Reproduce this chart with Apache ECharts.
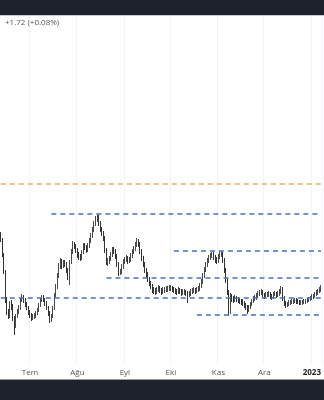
<!DOCTYPE html>
<html><head><meta charset="utf-8">
<script src="https://cdn.jsdelivr.net/npm/echarts@6/dist/echarts.min.js"></script>
<style>html,body{margin:0;padding:0;background:#fff}#c{width:324px;height:400px}</style>
</head><body><div id="c"></div>
<script>
// daily candles, first day and count
const startDate = '2022-06-12';
const opens = [166,160,145,128,100,88,84,97,94,82,74,84,88,92,100,103,100,96,92,88,85,82,83,84,87,90,95,100,103,100,97,92,87,80,84,92,105,113,124,134,138,134,137,136,130,124,138,148,156,154,150,145,143,142,148,154,153,150,154,159,164,170,176,181,183,177,171,167,162,150,138,138,141,145,150,149,144,136,127,128,133,138,140,142,139,140,144,148,151,155,159,156,149,142,136,130,126,121,117,114,110,109,108,110,112,110,108,110,110,111,111,112,112,111,110,109,108,110,109,107,108,108,107,105,106,108,109,110,109,110,111,114,118,124,130,135,139,142,144,145,143,140,139,143,146,146,140,130,120,108,100,104,101,100,102,101,100,99,98,97,95,93,90,93,96,99,101,102,104,106,107,108,105,104,105,105,106,104,103,106,106,105,106,108,111,102,97,95,96,97,98,98,99,100,99,98,97,97,98,98,99,100,101,102,103,104,106,107,109,110];
const closes = [160,145,128,100,88,84,97,94,82,74,84,88,92,100,103,100,96,92,88,85,82,83,84,87,90,95,100,103,100,97,92,87,80,84,92,105,113,124,134,138,134,137,136,130,124,138,148,156,154,150,145,143,142,148,154,153,150,154,159,164,170,176,181,183,177,171,167,162,150,138,138,141,145,150,149,144,136,127,128,133,138,140,142,139,140,144,148,151,155,159,156,149,142,136,130,126,121,117,114,110,109,108,110,112,110,108,110,110,111,111,112,112,111,110,109,108,110,109,107,108,108,107,105,106,108,109,110,109,110,111,114,118,124,130,135,139,142,144,145,143,140,139,143,146,146,140,130,120,108,100,104,101,100,102,101,100,99,98,97,95,93,90,93,96,99,101,102,104,106,107,108,105,104,105,105,106,104,103,106,106,105,106,108,111,102,97,95,96,97,98,98,99,100,99,98,97,97,98,98,99,100,101,102,103,104,106,107,109,110,112];
const highs = [168,162,147,130,103,91,99,100,96,84,86,91,95,102,106,105,102,98,94,90,87,86,87,89,92,97,102,105,105,102,99,94,89,86,94,107,116,127,137,142,141,140,140,138,132,140,151,159,158,156,152,148,146,150,157,157,155,157,162,167,173,179,184,186,185,179,173,169,164,152,142,144,148,153,153,151,146,138,131,136,141,143,145,144,143,147,151,154,158,162,161,158,151,144,138,132,128,123,119,116,113,112,113,115,114,112,113,113,114,114,115,115,114,113,112,111,113,112,111,111,111,110,109,109,111,112,113,112,113,114,117,121,127,133,138,142,145,147,148,148,145,143,146,149,149,148,142,132,122,110,107,106,104,105,104,103,102,101,101,99,97,95,95,98,101,104,105,107,109,110,111,110,107,108,108,109,108,106,108,109,108,109,111,114,113,104,99,98,100,100,101,101,102,102,101,100,100,100,101,101,102,103,104,106,106,108,110,111,113,115];
const lows = [158,143,126,97,85,81,82,90,79,65,72,82,86,90,98,97,93,90,85,82,79,80,81,82,85,88,93,98,98,94,90,84,77,78,82,90,103,111,122,131,131,132,133,127,120,115,136,146,151,147,142,140,139,140,146,150,147,148,152,157,162,168,174,178,174,168,164,159,147,135,134,136,139,143,146,141,133,124,125,126,131,136,138,136,137,138,142,146,149,153,153,146,139,133,127,123,118,114,111,107,106,105,106,108,107,105,106,107,108,108,109,109,108,107,106,105,106,106,104,105,105,104,97,103,104,106,107,106,107,108,109,112,116,122,128,133,137,140,142,140,137,136,137,141,143,137,127,117,105,84,86,98,97,98,98,97,96,95,94,92,90,86,88,91,94,97,99,100,102,104,105,103,101,102,103,103,101,100,101,104,102,103,104,106,99,94,92,93,94,95,96,96,97,96,96,95,95,95,96,96,97,98,99,100,101,102,104,105,107,108];
// horizontal levels: value and first candle index
const orangeLevel = 216;
const blueLevels = [186, 149, 122, 102, 85];
const blueStarts = [33, 113, 69, 0, 128];
const monthNames = ['Oca','Şub','Mar','Nis','May','Haz','Tem','Ağu','Eyl','Eki','Kas','Ara'];

const dates = [];
const d0 = new Date(startDate + 'T00:00:00Z');
for (let i = 0; i < closes.length; i++) {
  const d = new Date(d0.getTime() + i * 86400000);
  dates.push(d.toISOString().slice(0, 10));
}
const candles = closes.map((c, i) => [opens[i], c, lows[i], highs[i]]);
const isMonthStart = (idx, val) => String(val).slice(8, 10) === '01';
const lastIdx = dates.length - 1;

function levelSeries(v, start, color) {
  return {
    type: 'line', data: [[start, v], [lastIdx, v]], symbol: 'none', silent: true, z: 3,
    lineStyle: {color: color, type: [5, 4], width: 1.5}, emphasis: {disabled: true}
  };
}
const levelList = [levelSeries(orangeLevel, 0, '#f2ab55')];
blueLevels.forEach((v, k) => levelList.push(levelSeries(v, blueStarts[k], '#4a6fc6')));

const chart = echarts.init(document.getElementById('c'), null, {renderer: 'canvas'});
chart.setOption({
  animation: false,
  backgroundColor: '#ffffff',
  grid: {left: 0, right: 0, top: 16, bottom: 35},
  xAxis: {
    type: 'category', data: dates, boundaryGap: true,
    axisLine: {show: false}, axisTick: {show: false},
    axisLabel: {
      interval: isMonthStart, margin: 4, fontSize: 8, color: '#555',
      fontFamily: 'Open Sans',
      formatter: v => {
        const m = +v.slice(5, 7);
        if (m === 1) return '{b|' + v.slice(0, 4) + '}';
        return monthNames[m - 1];
      },
      rich: {b: {fontWeight: 'bold', fontSize: 8, color: '#222', fontFamily: 'Open Sans'}}
    },
    splitLine: {show: true, interval: isMonthStart, lineStyle: {color: '#f3f4f7', width: 1}}
  },
  yAxis: {type: 'value', min: 35, max: 384, show: false, splitLine: {show: false}},
  series: [{
    type: 'candlestick', data: candles, barWidth: '75%', z: 2,
    itemStyle: {color: '#9a9a9a', color0: '#333333', borderColor: '#4a4a4a', borderColor0: '#333333', borderWidth: 1}
  }].concat(levelList),
  graphic: [
    {type: 'rect', shape: {x: 0, y: 0, width: 324, height: 15}, style: {fill: '#1e222d'}, z: 100},
    {type: 'rect', shape: {x: 0, y: 15, width: 324, height: 1}, style: {fill: '#c9cbd1'}, z: 100},
    {type: 'rect', shape: {x: 0, y: 380, width: 324, height: 20}, style: {fill: '#1e222d'}, z: 100},
    {type: 'rect', shape: {x: 0, y: 379, width: 324, height: 1}, style: {fill: '#9a9ca3'}, z: 100},
    {type: 'text', left: 5, top: 19, style: {text: '+1.72 (+0.08%)', fill: '#555', fontSize: 8, fontFamily: 'Open Sans'}, z: 100}
  ]
});
</script></body></html>
